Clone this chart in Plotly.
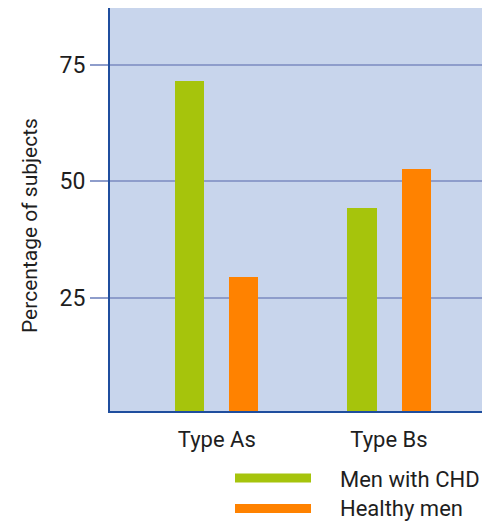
import plotly.graph_objects as go

categories = ["Type As", "Type Bs"]
series_names = ["Men with CHD", "Healthy men"]
men_with_chd = [71.6, 44.3]
healthy_men = [29.4, 52.7]
y_ticks = [25, 50, 75]
y_title = "Percentage of subjects"

GREEN = "#A6C40C"
ORANGE = "#FF8200"
GRID = "#8E9DCB"
AXIS = "#1F4E9E"
BG = "#C8D5EC"
FONT = "Roboto, Liberation Sans, Arial, sans-serif"
TXT = "#1e1e1e"

W, H = 493, 522
ML, MR, MT, MB = 110, 11, 8, 111
PW, PH = W - ML - MR, H - MT - MB

fig = go.Figure()
fig.add_trace(go.Bar(x=categories, y=men_with_chd, name=series_names[0],
                     marker=dict(color=GREEN, line=dict(width=0)),
                     width=0.169, offset=-0.241))
fig.add_trace(go.Bar(x=categories, y=healthy_men, name=series_names[1],
                     marker=dict(color=ORANGE, line=dict(width=0)),
                     width=0.169, offset=0.073))

def px_x(p):
    return (p - ML) / PW

def px_y(p):
    return (H - MB - p) / PH

shapes = []
annotations = []
legend_rows = [(GREEN, series_names[0], 473.5, 482.5, 479),
               (ORANGE, series_names[1], 504, 513, 508)]
for color, name, y0, y1, yt in legend_rows:
    shapes.append(dict(type="rect", xref="paper", yref="paper",
                       x0=px_x(235), x1=px_x(311), y0=px_y(y1), y1=px_y(y0),
                       fillcolor=color, line=dict(width=0)))
    annotations.append(dict(xref="paper", yref="paper", x=px_x(338), y=px_y(yt),
                            text=name, showarrow=False, xanchor="left", yanchor="middle",
                            font=dict(family=FONT, size=22, color=TXT)))

annotations.append(dict(xref="paper", yref="paper", x=px_x(30), y=px_y(226),
                        text=y_title, textangle=-90, showarrow=False,
                        xanchor="center", yanchor="middle",
                        font=dict(family=FONT, size=21, color=TXT)))

fig.update_layout(
    width=W, height=H,
    margin=dict(l=ML, r=MR, t=MT, b=MB),
    paper_bgcolor="white", plot_bgcolor=BG,
    showlegend=False,
    bargap=0, bargroupgap=0,
    font=dict(family=FONT, color=TXT),
    shapes=shapes, annotations=annotations,
    xaxis=dict(range=[-0.62, 1.54], showgrid=False, showline=True, linecolor=AXIS,
               linewidth=2, ticks="", tickfont=dict(size=22), ticklabelstandoff=8,
               zeroline=False),
    yaxis=dict(range=[0.75, 87.2], tickvals=y_ticks, showgrid=True, gridcolor=GRID,
               gridwidth=1.5, showline=True, linecolor=AXIS, linewidth=2,
               ticks="outside", ticklen=18, tickcolor=GRID, tickwidth=1.5,
               tickfont=dict(size=23), zeroline=False),
)

fig.write_html("out.html", config={"displayModeBar": False},
               post_script="document.body.style.margin='0px';")
